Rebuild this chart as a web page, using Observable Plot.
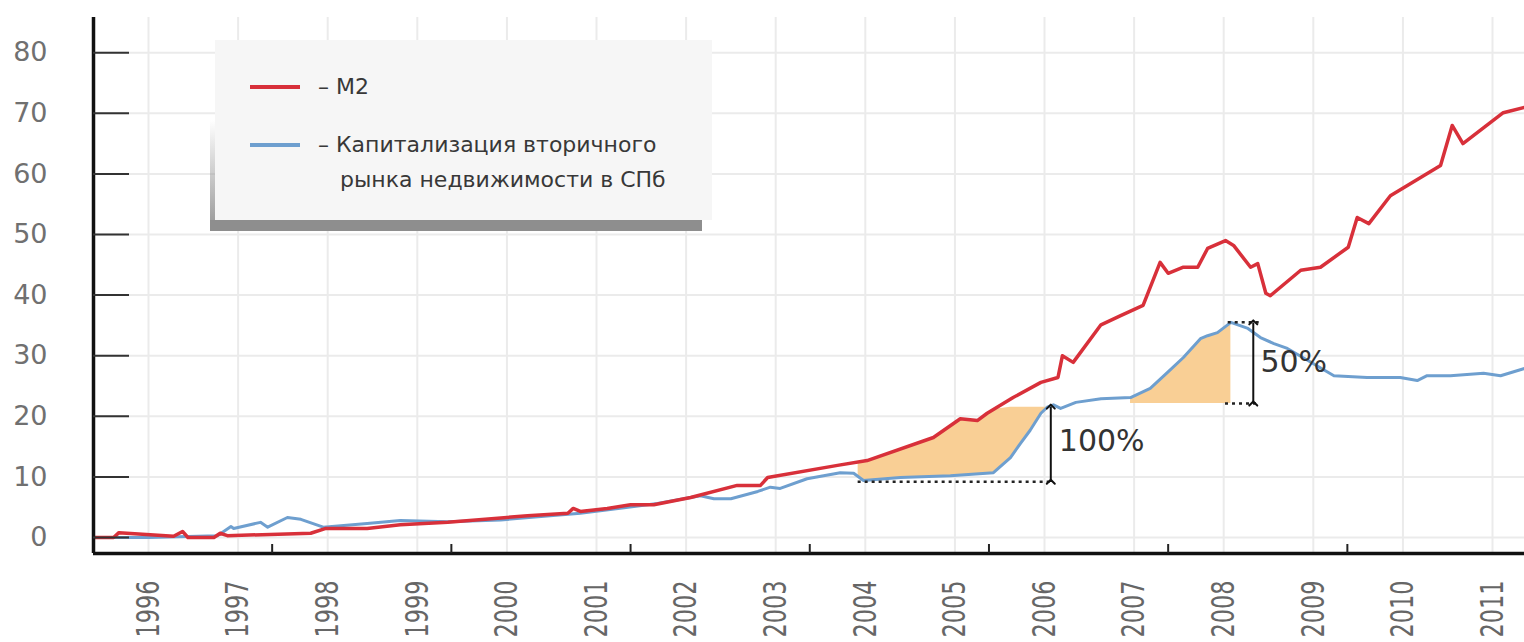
<!DOCTYPE html>
<html>
<head>
<meta charset="utf-8">
<script src="https://cdn.jsdelivr.net/npm/d3@7"></script>
<script src="https://cdn.jsdelivr.net/npm/@observablehq/plot@0.6"></script>
<style>
  body { margin: 0; background: #fff; }
  #wrap { position: relative; width: 1524px; height: 642px; overflow: hidden; }
  .lg-box { position: absolute; left: 215px; top: 40px; width: 497px; height: 180px; background: #f6f6f6; }
  .lg-shadow-b { position: absolute; left: 210px; top: 220px; width: 492px; height: 11px; background: #8e8e8e; }
  .lg-shadow-l { position: absolute; left: 210px; top: 120px; width: 5px; height: 111px; background: linear-gradient(to bottom, rgba(150,150,150,0), #959595); }
  .lg-line { position: absolute; left: 250px; width: 50px; height: 4px; }
  .lg-text { position: absolute; font-family: "DejaVu Sans", sans-serif; font-size: 22px; line-height: 26px; color: #383838; white-space: nowrap; }
</style>
</head>
<body>
<div id="wrap"></div>
<script>
// ---- data ----
const years = [1996, 1997, 1998, 1999, 2000, 2001, 2002, 2003, 2004, 2005, 2006, 2007, 2008, 2009, 2010, 2011];
const yTicks = [0, 10, 20, 30, 40, 50, 60, 70, 80];
const minorTicks = [1997.38, 1999.38, 2001.38, 2003.38, 2005.38, 2007.38, 2009.38];
const xDomain = [1995.386, 2011.357];
const yDomain = [-2.64, 85.81];

const seriesNames = ["– M2", "– Капитализация вторичного", "рынка недвижимости в СПб"];

// M2: [year, value]
const m2Series = [
  [1995.39, 0.0], [1995.61, 0.0], [1995.67, 0.8], [1996.28, 0.2], [1996.38, 1.0], [1996.44, 0.0],
  [1996.73, 0.0], [1996.80, 0.7], [1996.88, 0.3], [1997.81, 0.7], [1997.98, 1.5], [1998.44, 1.5],
  [1998.81, 2.1], [1999.34, 2.5], [2000.23, 3.6], [2000.68, 4.0], [2000.74, 4.8], [2000.82, 4.3],
  [2001.12, 4.8], [2001.38, 5.4], [2001.64, 5.4], [2002.05, 6.6], [2002.57, 8.6], [2002.83, 8.6],
  [2002.91, 9.9], [2003.69, 11.9], [2004.02, 12.7], [2004.76, 16.5], [2005.06, 19.6], [2005.25, 19.3],
  [2005.36, 20.5], [2005.65, 23.1], [2005.96, 25.6], [2006.15, 26.4], [2006.20, 30.0], [2006.32, 28.9],
  [2006.63, 35.1], [2006.85, 36.6], [2007.10, 38.3], [2007.29, 45.4], [2007.38, 43.6], [2007.55, 44.6],
  [2007.71, 44.6], [2007.82, 47.7], [2008.02, 49.0], [2008.11, 48.2], [2008.30, 44.6], [2008.38, 45.2],
  [2008.47, 40.3], [2008.52, 39.9], [2008.86, 44.1], [2009.08, 44.6], [2009.39, 47.9], [2009.49, 52.8],
  [2009.62, 51.8], [2009.86, 56.4], [2010.42, 61.4], [2010.55, 68.0], [2010.67, 65.0], [2011.12, 70.1],
  [2011.36, 71.0]
];

// Capitalisation of St Petersburg secondary housing market: [year, value]
const capSeries = [
  [1995.39, 0.0], [1996.00, 0.0], [1996.77, 0.3], [1996.92, 1.8], [1996.95, 1.5], [1997.25, 2.5],
  [1997.33, 1.7], [1997.55, 3.3], [1997.70, 3.0], [1997.95, 1.7], [1998.44, 2.3], [1998.81, 2.8],
  [1999.34, 2.6], [1999.93, 2.9], [2000.82, 4.0], [2001.68, 5.6], [2002.16, 6.9], [2002.31, 6.4],
  [2002.50, 6.4], [2002.80, 7.6], [2002.94, 8.3], [2003.05, 8.1], [2003.35, 9.7], [2003.72, 10.7],
  [2003.87, 10.6], [2003.98, 9.4], [2004.39, 9.9], [2004.95, 10.2], [2005.43, 10.7], [2005.62, 13.2],
  [2005.73, 15.5], [2005.84, 17.7], [2005.96, 20.5], [2006.03, 21.5], [2006.10, 21.9], [2006.18, 21.3],
  [2006.35, 22.3], [2006.63, 22.9], [2006.96, 23.1], [2007.18, 24.6], [2007.37, 27.2], [2007.55, 29.7],
  [2007.74, 32.8], [2007.82, 33.3], [2007.93, 33.8], [2008.08, 35.5], [2008.27, 34.5], [2008.41, 33.0],
  [2008.56, 32.0], [2008.71, 31.2], [2008.94, 29.2], [2009.23, 26.7], [2009.60, 26.4], [2009.97, 26.4],
  [2010.16, 25.9], [2010.27, 26.7], [2010.53, 26.7], [2010.90, 27.1], [2011.09, 26.7], [2011.36, 27.9]
];

// shaded gaps: [from, to, base, cap]
const gap1 = [2003.92, 2006.03, 9.2, 21.5];
const gap2 = [2006.96, 2008.08, 22.1];

// dotted guides: [x1, x2, y]
const dotted = [[2003.92, 2006.07, 9.2], [2008.02, 2008.39, 22.1], [2008.05, 2008.43, 35.5]];
// arrows: [x, yLow, yHigh]
const arrows = [[2006.07, 9.2, 21.6], [2008.33, 22.1, 35.5]];
// percent labels: [x, y, text]
const pctLabels = [[2006.16, 15.8, "100%"], [2008.41, 28.9, "50%"]];

// ---- helpers ----
const toObj = s => s.map(([x, y]) => ({x, y}));
const m2 = toObj(m2Series);
const cap = toObj(capSeries);
function valueAt(series, x) {
  const i = d3.bisector(d => d.x).right(series, x);
  if (i <= 0) return series[0].y;
  if (i >= series.length) return series[series.length - 1].y;
  const a = series[i - 1], b = series[i];
  return a.y + (b.y - a.y) * (x - a.x) / (b.x - a.x);
}
function xsBetween(lo, hi, ...series) {
  const s = new Set([lo, hi]);
  for (const ser of series) for (const d of ser) if (d.x > lo && d.x < hi) s.add(d.x);
  return [...s].sort((a, b) => a - b);
}
const fill1 = xsBetween(gap1[0], gap1[1], m2, cap).map(x => ({
  x, lo: valueAt(cap, x), hi: Math.max(valueAt(cap, x), Math.min(valueAt(m2, x), gap1[3]))
}));
const fill2 = xsBetween(gap2[0], gap2[1], cap).map(x => ({
  x, lo: gap2[2], hi: Math.max(gap2[2], valueAt(cap, x))
}));

const chart = Plot.plot({
  width: 1524,
  height: 642,
  marginLeft: 93,
  marginRight: 0,
  marginTop: 17,
  marginBottom: 89,
  style: {fontFamily: "DejaVu Sans, sans-serif", background: "#fff"},
  x: {domain: xDomain, label: null},
  y: {domain: yDomain, label: null},
  marks: [
    Plot.gridX({ticks: years, stroke: "#ebebeb", strokeOpacity: 1, strokeWidth: 2}),
    Plot.gridY({ticks: yTicks, stroke: "#ebebeb", strokeOpacity: 1, strokeWidth: 2}),
    Plot.areaY(fill1, {x: "x", y1: "lo", y2: "hi", fill: "#f9cf95", curve: "linear"}),
    Plot.areaY(fill2, {x: "x", y1: "lo", y2: "hi", fill: "#f9cf95", curve: "linear"}),
    Plot.line(cap, {x: "x", y: "y", stroke: "#6e9fcf", strokeWidth: 3}),
    Plot.line(m2, {x: "x", y: "y", stroke: "#d8303a", strokeWidth: 3.5}),
    Plot.ruleY(dotted, {x1: d => d[0], x2: d => d[1], y: d => d[2], stroke: "#222", strokeWidth: 2.5, strokeDasharray: "3,4"}),
    Plot.link(arrows, {x1: d => d[0], x2: d => d[0], y1: d => d[1], y2: d => d[2], stroke: "#111", strokeWidth: 2, markerStart: "arrow", markerEnd: "arrow"}),
    Plot.text(pctLabels, {x: d => d[0], y: d => d[1], text: d => d[2], textAnchor: "start", fontSize: 30, fill: "#333"}),
    Plot.ruleX([xDomain[0]], {stroke: "#111", strokeWidth: 3.5}),
    Plot.ruleY([yDomain[0]], {stroke: "#111", strokeWidth: 3.5}),
    Plot.axisY({ticks: yTicks, tickSize: 0, tickPadding: 46, fontSize: 27, fill: "#707070", label: null}),
    Plot.axisY({ticks: yTicks, tickSize: -36, tickFormat: () => "", stroke: "#333", strokeWidth: 2, label: null}),
    Plot.axisX({ticks: minorTicks, tickSize: -9, tickFormat: () => "", stroke: "#222", strokeWidth: 2, label: null}),
    Plot.axisX({ticks: years, tickFormat: d => String(d), tickRotate: -90, tickSize: 0, tickPadding: 27,
      fontSize: 32, fontFamily: "'DejaVu Sans', sans-serif", fill: "#666", label: null})
  ]
});

// condense the rotated year labels along their reading direction
d3.select(chart).selectAll('g[aria-label="x-axis tick label"] text').each(function() {
  const t = this.getAttribute("transform") || "";
  this.setAttribute("transform", t + " scale(0.7,1)");
});

const wrap = document.getElementById("wrap");
wrap.appendChild(chart);

// legend inside the plot area
const legendHtml = `
  <div class="lg-shadow-l"></div>
  <div class="lg-shadow-b"></div>
  <div class="lg-box"></div>
  <div class="lg-line" style="top:85px;background:#d8303a"></div>
  <div class="lg-line" style="top:143px;background:#6e9fcf"></div>
  <div class="lg-text" style="left:318px;top:74px">${seriesNames[0]}</div>
  <div class="lg-text" style="left:318px;top:132px">${seriesNames[1]}</div>
  <div class="lg-text" style="left:340px;top:167px">${seriesNames[2]}</div>`;
const lg = document.createElement("div");
lg.innerHTML = legendHtml;
wrap.appendChild(lg);
</script>
</body>
</html>
